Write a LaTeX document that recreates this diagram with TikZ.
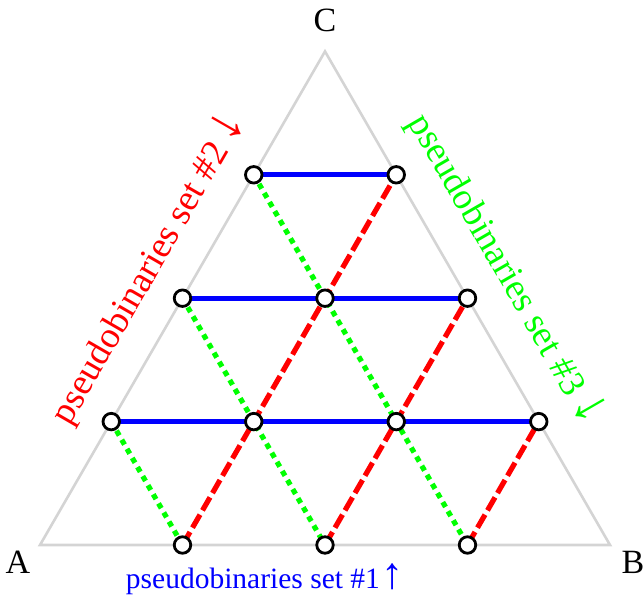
\documentclass[tikz,border=0pt]{standalone}
\usepackage{fontspec}
\setmainfont{Liberation Serif}
\newcommand{\bigarr}[1]{{\fontsize{1.5em}{1.5em}\selectfont #1}}
\begin{document}
\begin{tikzpicture}[x=1pt,y=-1pt,
  tri/.style={draw=black!17,line width=2.6pt},
  blueline/.style={draw=blue,line width=5.2pt},
  redline/.style={draw=red,line width=5.2pt,dash pattern=on 15pt off 5pt},
  greenline/.style={draw=green,line width=5.2pt,dash pattern=on 5.5pt off 5pt},
  pt/.style={circle,draw=black,fill=white,line width=2.8pt,minimum size=16.5pt,inner sep=0pt},
  vlab/.style={font=\fontsize{34}{38}\selectfont},
  setlab/.style={font=\fontsize{29.5}{34}\selectfont},
  rotlab/.style={font=\fontsize{37}{40}\selectfont}]
\useasboundingbox (0,0) rectangle (644,607);
% triangle vertices
\coordinate (A) at (40,545);
\coordinate (B) at (610,545);
\coordinate (C) at (325,51.4);
\draw[tri,line join=miter] (A) -- (B) -- (C) -- cycle;
% grid points
\coordinate (p10) at (182.5,545);
\coordinate (p20) at (325,545);
\coordinate (p30) at (467.5,545);
\coordinate (q0) at (111.25,421.6);
\coordinate (q1) at (253.75,421.6);
\coordinate (q2) at (396.25,421.6);
\coordinate (q3) at (538.75,421.6);
\coordinate (r0) at (182.5,298.2);
\coordinate (r1) at (325,298.2);
\coordinate (r2) at (467.5,298.2);
\coordinate (s0) at (253.75,174.8);
\coordinate (s1) at (396.25,174.8);
% blue
\draw[blueline] (q0) -- (q3);
\draw[blueline] (r0) -- (r2);
\draw[blueline] (s0) -- (s1);
% green dotted
\draw[greenline] (s0) -- (p30);
\draw[greenline] (r0) -- (p20);
\draw[greenline] (q0) -- (p10);
% red dashed
\draw[redline] (p10) -- (s1);
\draw[redline] (p20) -- (r2);
\draw[redline] (p30) -- (q3);
% circles
\foreach \c in {p10,p20,p30,q0,q1,q2,q3,r0,r1,r2,s0,s1}
  \node[pt] (n\c) at (\c) {};
% vertex labels
\node[vlab] (la) at (18,562) {A};
\node[vlab] (lb) at (633,562) {B};
\node[vlab] (lc) at (325,20) {C};
% set labels
\node[setlab,text=blue] (s1lab) at (265,579) {pseudobinaries set \#1\kern2pt\bigarr{↑}};
\node[rotlab,text=red,rotate=60] (s2lab) at (148,268) {pseudobinaries set \#2\,\bigarr{↓}};
\node[rotlab,text=green,rotate=-60] (s3lab) at (506,269) {pseudobinaries set \#3\,\bigarr{↓}};
\end{tikzpicture}
\end{document}
